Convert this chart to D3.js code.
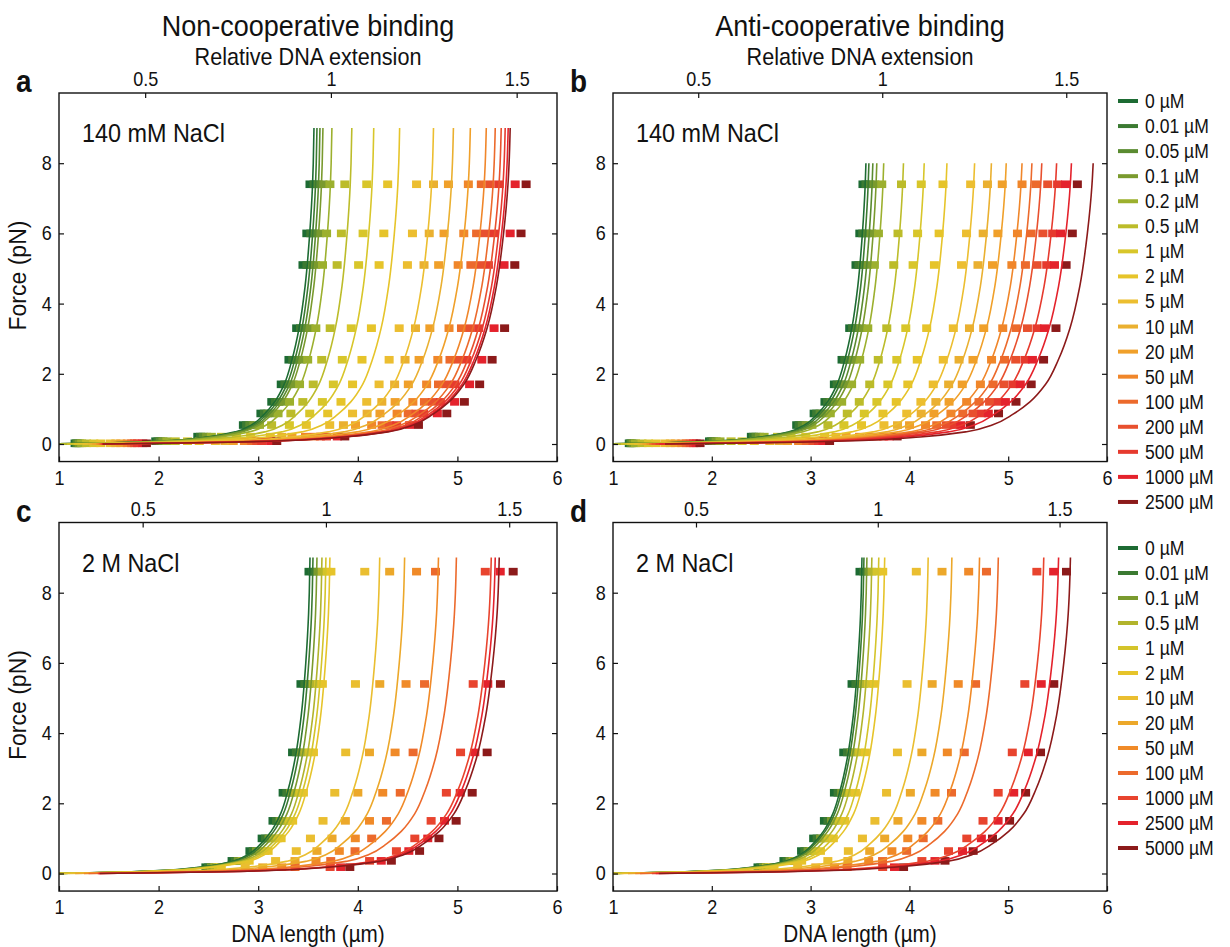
<!DOCTYPE html>
<html>
<head>
<meta charset="utf-8">
<script src="https://cdn.jsdelivr.net/npm/d3@7"></script>
<style>
  body { margin: 0; background: #fff; }
  text { font-family: "Liberation Sans", Arial, sans-serif; fill: #111; }
</style>
</head>
<body>
<div id="chart"></div>
<script>
// concentrations (legend labels)
var concAB = ["0", "0.01", "0.05", "0.1", "0.2", "0.5", "1", "2", "5", "10", "20", "50", "100", "200", "500", "1000", "2500"];
var concCD = ["0", "0.01", "0.1", "0.5", "1", "2", "10", "20", "50", "100", "1000", "2500", "5000"];

var colorsAB = ["#1d6b33", "#3b7a32", "#5a8b30", "#7a9a2e", "#9cb02e", "#bcbc2a", "#d8c62a", "#e6c42a", "#ecbe30",
                "#eab030", "#f0a02a", "#f0862a", "#ec6a2c", "#e8502e", "#e63a2e", "#e4222c", "#8c1a1a"];
var colorsCD = ["#1d6b33", "#3b7a32", "#7a9a2e", "#b2b42c", "#d4c42a", "#e6c42a", "#eabe30", "#eca82a",
                "#f08a28", "#ec6a2c", "#e8442e", "#e4222c", "#8c1a1a"];

// fitted curves: DNA length (um) at the top force of each curve
var curveTopA = [3.56, 3.59, 3.62, 3.65, 3.74, 3.94, 4.16, 4.42, 4.76, 4.96, 5.13, 5.29, 5.38, 5.44, 5.48, 5.51, 5.53];
var curveTopB = [3.56, 3.59, 3.63, 3.67, 3.74, 3.94, 4.15, 4.38, 4.66, 4.83, 4.98, 5.14, 5.24, 5.34, 5.49, 5.64, 5.86];
var curveTopC = [3.52, 3.55, 3.59, 3.64, 3.68, 3.72, 4.22, 4.47, 4.81, 4.99, 5.34, 5.38, 5.42];
var curveTopD = [3.52, 3.54, 3.57, 3.62, 3.69, 3.75, 4.19, 4.43, 4.71, 4.90, 5.36, 5.51, 5.63];

var curveForce = [0, 0.02, 0.05, 0.1, 0.2, 0.35, 0.55, 0.85, 1.2, 1.7, 2.4, 3.3, 4.5, 6, 7.4, 8, 9];
var curveRel   = [0.26, 0.37, 0.49, 0.6, 0.7, 0.78, 0.825, 0.86, 0.889, 0.916, 0.938, 0.958, 0.975, 0.988, 0.996, 0.998, 1];

// measured points: DNA length at the highest force row, per concentration
var markTopA = [3.52, 3.56, 3.60, 3.65, 3.72, 3.87, 4.09, 4.30, 4.59, 4.76, 4.91, 5.11, 5.24, 5.33, 5.42, 5.58, 5.69];
var markTopB = [3.53, 3.56, 3.60, 3.65, 3.72, 3.92, 4.12, 4.34, 4.62, 4.79, 4.94, 5.14, 5.28, 5.40, 5.50, 5.58, 5.70];
var markTopC = [3.51, 3.55, 3.59, 3.64, 3.69, 3.73, 4.07, 4.32, 4.59, 4.78, 5.28, 5.43, 5.56];
var markTopD = [3.50, 3.54, 3.58, 3.62, 3.67, 3.73, 4.07, 4.33, 4.60, 4.78, 5.29, 5.46, 5.59];

// force rows of the measured points and their length relative to the top row
var rowForceAB = [7.4, 6.0, 5.1, 3.3, 2.4, 1.7, 1.2, 0.87, 0.54, 0.21, 0.08, 0.02];
var rowRelAB   = [1, 0.991, 0.98, 0.962, 0.94, 0.918, 0.891, 0.86, 0.81, 0.68, 0.56, 0.33];
var rowForceCD = [8.6, 5.4, 3.45, 2.3, 1.5, 1.0, 0.64, 0.36, 0.18];
var rowRelCD   = [1, 0.977, 0.953, 0.926, 0.897, 0.866, 0.831, 0.78, 0.705];

var xTicks = [1, 2, 3, 4, 5, 6];
var yTicks = [0, 2, 4, 6, 8];
var relTicks = [0.5, 1, 1.5];

var W = 1230, H = 947;
var FONT = '"Liberation Sans", Arial, sans-serif';
var SQ = 0.9;   // text in the figure is a little narrower than the font

var panels = [
  {id: "a", left: 59, right: 557, zero: 444, l0: 3.73, conc: concAB, colors: colorsAB, curveTop: curveTopA, fMax: 9,
   markTop: markTopA, rowForce: rowForceAB, rowRel: rowRelAB, salt: "140 mM NaCl", yTitle: true, xTitle: false, topTitle: true},
  {id: "b", left: 613, right: 1107, zero: 444, l0: 3.725, conc: concAB, colors: colorsAB, curveTop: curveTopB, fMax: 8,
   markTop: markTopB, rowForce: rowForceAB, rowRel: rowRelAB, salt: "140 mM NaCl", yTitle: false, xTitle: false, topTitle: true, legend: true},
  {id: "c", left: 59, right: 557, zero: 873.5, l0: 3.68, conc: concCD, colors: colorsCD, curveTop: curveTopC, fMax: 9,
   markTop: markTopC, rowForce: rowForceCD, rowRel: rowRelCD, salt: "2 M NaCl", yTitle: true, xTitle: true},
  {id: "d", left: 613, right: 1107, zero: 873.5, l0: 3.68, conc: concCD, colors: colorsCD, curveTop: curveTopD, fMax: 9,
   markTop: markTopD, rowForce: rowForceCD, rowRel: rowRelCD, salt: "2 M NaCl", yTitle: false, xTitle: true, legend: true}
];

var svg = d3.select("#chart").append("svg")
    .attr("width", W)
    .attr("height", H);

function label(parent, x, y, txt, size, anchor) {
  return parent.append("text")
      .attr("transform", "translate(" + x + "," + y + ") scale(" + SQ + ",1)")
      .attr("text-anchor", anchor || "start")
      .attr("font-size", size)
      .text(txt);
}

// column titles
label(svg, 308, 36, "Non-cooperative binding", 30, "middle");
label(svg, 860, 36, "Anti-cooperative binding", 30, "middle");

function curvePoints(top, fMax) {
  var iTop = curveForce.indexOf(fMax);
  var pts = [];
  for (var k = 0; k <= iTop; k++) {
    pts.push({x: top * curveRel[k] / curveRel[iTop], f: curveForce[k]});
  }
  return pts;
}

function styleAxis(g) {
  g.attr("font-family", FONT).attr("font-size", 20);
  g.select(".domain").remove();
  g.selectAll(".tick line").attr("stroke", "#111").attr("stroke-width", 1.2);
  g.selectAll(".tick text").attr("fill", "#111").attr("transform", "scale(" + SQ + ",1)");
}

panels.forEach(function(p) {
  var pxPerPN = 35.1;
  var top = p.zero - 10 * pxPerPN;
  var bottom = p.zero + 0.5 * pxPerPN;

  var x = d3.scaleLinear().domain([1, 6]).range([p.left, p.right]);
  var y = d3.scaleLinear().domain([-0.5, 10]).range([bottom, top]);
  var xRel = d3.scaleLinear().domain([1 / p.l0, 6 / p.l0]).range([p.left, p.right]);

  var g = svg.append("g").attr("class", "panel-" + p.id);

  g.append("clipPath").attr("id", "clip-" + p.id)
   .append("rect")
   .attr("x", p.left).attr("y", top)
   .attr("width", p.right - p.left).attr("height", bottom - top);

  var plot = g.append("g").attr("clip-path", "url(#clip-" + p.id + ")");

  var line = d3.line()
      .x(function(d) { return x(d.x); })
      .y(function(d) { return y(d.f); })
      .curve(d3.curveMonotoneY);

  // measured points
  p.conc.forEach(function(c, i) {
    var pts = p.rowForce.map(function(f, j) { return {x: p.markTop[i] * p.rowRel[j], f: f}; });
    plot.selectAll(".m" + i).data(pts)
        .enter().append("rect")
        .attr("x", function(d) { return x(d.x) - 4.5; })
        .attr("y", function(d) { return y(d.f) - 3.8; })
        .attr("width", 9)
        .attr("height", 7.6)
        .attr("fill", p.colors[i]);
  });

  // fitted curves
  plot.selectAll(".curve").data(p.curveTop)
      .enter().append("path")
      .attr("class", "curve")
      .attr("d", function(d) { return line(curvePoints(d, p.fMax)); })
      .attr("fill", "none")
      .attr("stroke", function(d, i) { return p.colors[i]; })
      .attr("stroke-width", 1.6);

  // frame
  g.append("rect")
   .attr("x", p.left).attr("y", top)
   .attr("width", p.right - p.left).attr("height", bottom - top)
   .attr("fill", "none")
   .attr("stroke", "#111")
   .attr("stroke-width", 1.4);

  g.append("g").attr("transform", "translate(0," + bottom + ")")
   .call(d3.axisBottom(x).tickValues(xTicks).tickSize(-5).tickPadding(9).tickFormat(d3.format("d")))
   .call(styleAxis);

  g.append("g").attr("transform", "translate(0," + top + ")")
   .call(d3.axisTop(xRel).tickValues(relTicks).tickSize(-5).tickPadding(7).tickFormat(d3.format("~g")))
   .call(styleAxis);

  g.append("g").attr("transform", "translate(" + p.left + ",0)")
   .call(d3.axisLeft(y).tickValues(yTicks).tickSize(-5).tickPadding(8).tickFormat(d3.format("d")))
   .call(styleAxis);

  g.append("g").attr("transform", "translate(" + p.right + ",0)")
   .call(d3.axisRight(y).tickValues(yTicks).tickSize(-5).tickFormat(""))
   .call(styleAxis);

  var mid = (p.left + p.right) / 2;

  if (p.topTitle) label(g, mid, top - 28, "Relative DNA extension", 24, "middle");

  label(g, p.left - 43, top - 1, p.id, 31).attr("font-weight", "bold");

  label(g, p.left + 23, top + 49, p.salt, 26);

  if (p.yTitle) {
    g.append("text")
     .attr("transform", "translate(" + (p.left - 33) + "," + y(4.8) + ") rotate(-90)")
     .attr("text-anchor", "middle")
     .attr("font-size", 23)
     .text("Force (pN)");
  }

  if (p.xTitle) label(g, mid, bottom + 51, "DNA length (\u00b5m)", 23, "middle");

  if (p.legend) {
    var y0 = p.id === "b" ? 101 : 548;
    var step = p.id === "b" ? 25.06 : 25;
    var items = g.selectAll(".legend").data(p.conc)
        .enter().append("g")
        .attr("class", "legend")
        .attr("transform", function(d, i) { return "translate(1118," + (y0 + i * step) + ")"; });
    items.append("line")
         .attr("x1", 0).attr("x2", 20)
         .attr("stroke", function(d, i) { return p.colors[i]; })
         .attr("stroke-width", 4);
    items.append("text")
         .attr("transform", "translate(27,7) scale(" + SQ + ",1)")
         .attr("font-size", 19.5)
         .text(function(d) { return d + " \u00b5M"; });
  }
});
</script>
</body>
</html>
